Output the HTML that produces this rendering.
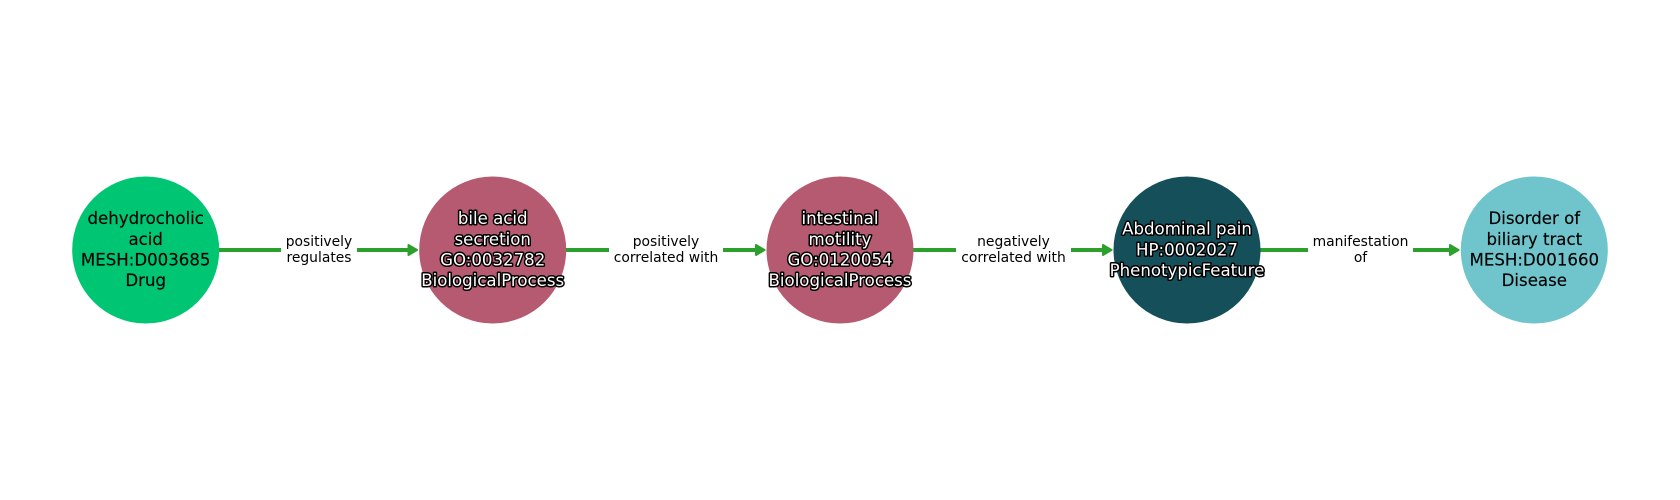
<!DOCTYPE html>
<html>
<head>
<meta charset="utf-8">
<style>
html,body{margin:0;padding:0;background:#fff;width:1680px;height:500px;overflow:hidden}
svg{display:block}
text{font-family:"DejaVu Sans",sans-serif;text-anchor:middle}
.n{font-size:16.6px;fill:#000;stroke:#000;stroke-width:.15px}
.w{font-size:16.6px;fill:#fff;stroke:#000;stroke-width:3px;paint-order:stroke;stroke-linejoin:round}
.e{font-size:13.89px;fill:#000}
.l{stroke:#2ca02c;stroke-width:4px;fill:none}
.a{fill:#2ca02c;stroke:#2ca02c;stroke-width:2px;stroke-linejoin:round}
</style>
</head>
<body>
<svg width="1680" height="500" viewBox="0 0 1680 500" xmlns="http://www.w3.org/2000/svg">
<rect width="1680" height="500" fill="#fff"/>

<!-- edges -->
<path class="l" d="M219 250H281M357 250H411"/>
<path class="a" d="M417 250L408.500 245V255Z"/>
<path class="l" d="M566 250H609M723 250H758"/>
<path class="a" d="M764.500 250L756 245V255Z"/>
<path class="l" d="M913 250H956M1071 250H1105"/>
<path class="a" d="M1111.500 250L1103 245V255Z"/>
<path class="l" d="M1260 250H1308M1413 250H1452"/>
<path class="a" d="M1458.500 250L1450 245V255Z"/>

<!-- nodes -->
<circle cx="145.700" cy="250" r="73.500" fill="#00c573"/>
<circle cx="492.700" cy="250" r="73.500" fill="#b55a70"/>
<circle cx="840" cy="250" r="73.500" fill="#b55a70"/>
<circle cx="1187" cy="250" r="73.500" fill="#154f59"/>
<circle cx="1534.300" cy="250" r="73.500" fill="#70c5cc"/>

<!-- node labels -->
<text class="n" x="145.700" y="224">dehydrocholic</text>
<text class="n" x="145.700" y="245">acid</text>
<text class="n" x="145.700" y="265.500">MESH:D003685</text>
<text class="n" x="145.700" y="286">Drug</text>

<text class="w" x="492.700" y="224">bile acid</text>
<text class="w" x="492.700" y="245">secretion</text>
<text class="w" x="492.700" y="265.500">GO:0032782</text>
<text class="w" x="492.700" y="286">BiologicalProcess</text>

<text class="w" x="840" y="224">intestinal</text>
<text class="w" x="840" y="245">motility</text>
<text class="w" x="840" y="265.500">GO:0120054</text>
<text class="w" x="840" y="286">BiologicalProcess</text>

<text class="w" x="1187" y="234.500">Abdominal pain</text>
<text class="w" x="1187" y="255.500">HP:0002027</text>
<text class="w" x="1187" y="276">PhenotypicFeature</text>

<text class="n" x="1534.300" y="224">Disorder of</text>
<text class="n" x="1534.300" y="245">biliary tract</text>
<text class="n" x="1534.300" y="265.500">MESH:D001660</text>
<text class="n" x="1534.300" y="286">Disease</text>

<!-- edge labels -->
<text class="e" x="319" y="246">positively</text>
<text class="e" x="319" y="262">regulates</text>
<text class="e" x="666" y="246">positively</text>
<text class="e" x="666" y="262">correlated with</text>
<text class="e" x="1013.500" y="246">negatively</text>
<text class="e" x="1013.500" y="262">correlated with</text>
<text class="e" x="1360.500" y="246">manifestation</text>
<text class="e" x="1360.500" y="262">of</text>
</svg>
</body>
</html>
